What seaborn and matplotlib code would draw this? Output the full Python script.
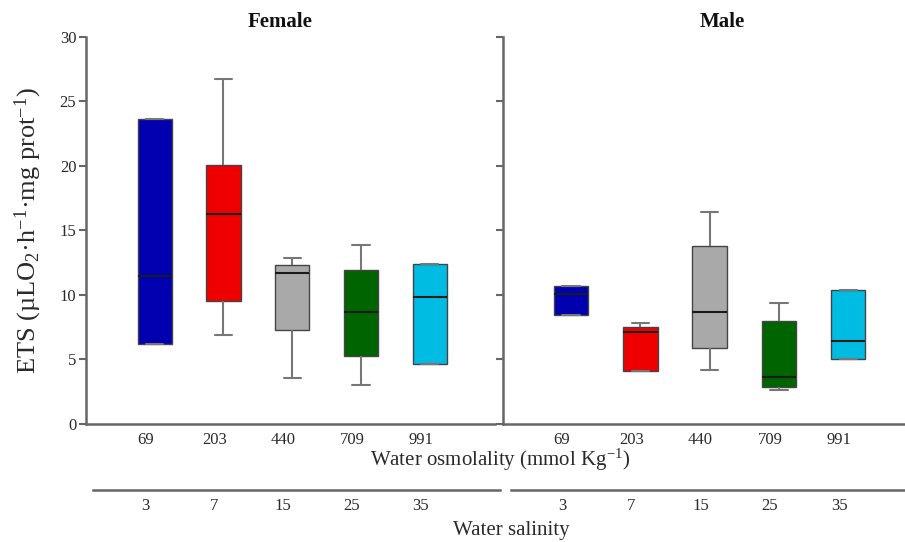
import numpy as np
import pandas as pd
import seaborn as sns
import matplotlib.pyplot as plt

osmolality = ["69", "203", "440", "709", "991"]
salinity = ["3", "7", "15", "25", "35"]
colors = ["#0000b0", "#ee0000", "#a9a9a9", "#006400", "#00bbe2"]

# five numbers per group: lower whisker, Q1, median, Q3, upper whisker
female_69 = [6.2, 6.2, 11.45, 23.6, 23.6]
female_203 = [6.9, 9.5, 16.25, 20.1, 26.7]
female_440 = [3.6, 7.3, 11.7, 12.3, 12.85]
female_709 = [3.0, 5.3, 8.7, 11.95, 13.9]
female_991 = [4.65, 4.65, 9.8, 12.4, 12.4]

male_69 = [8.45, 8.45, 10.05, 10.7, 10.7]
male_203 = [4.1, 4.1, 7.15, 7.55, 7.85]
male_440 = [4.15, 5.9, 8.65, 13.75, 16.4]
male_709 = [2.6, 2.85, 3.65, 7.95, 9.4]
male_991 = [5.0, 5.0, 6.45, 10.4, 10.4]

female = [female_69, female_203, female_440, female_709, female_991]
male = [male_69, male_203, male_440, male_709, male_991]

rows = []
for sex, groups in [("Female", female), ("Male", male)]:
    for osm, vals in zip(osmolality, groups):
        for v in vals:
            rows.append({"sex": sex, "osm": osm, "ets": v})
df = pd.DataFrame(rows)

sns.set_style("ticks")
plt.rcParams["font.family"] = ["Liberation Serif", "DejaVu Serif"]
plt.rcParams["mathtext.fontset"] = "custom"
plt.rcParams["mathtext.rm"] = "Liberation Serif"

fig = plt.figure(figsize=(9.05, 5.42), dpi=100)
ax1 = fig.add_axes([0.095, 0.2177, 0.452, 0.7146])
ax2 = fig.add_axes([0.5558, 0.2177, 0.4442, 0.7146])

axis_col = "#666666"
text_col = "#2a2a2a"
# labels sit a little left of the boxes in the original
label_pos = np.arange(5) - 0.13

panels = [(ax1, "Female", (-1.0, 4.95), 0.474, (-0.9, 5.02)),
          (ax2, "Male", (-0.98, 4.82), 0.545, (-0.87, 5.0))]

for ax, sex, xl, tx, sal_bounds in panels:
    sns.boxplot(data=df[df["sex"] == sex], x="osm", y="ets", hue="osm",
                order=osmolality, hue_order=osmolality, palette=colors,
                legend=False, whis=(0, 100), width=0.5, linewidth=1,
                linecolor="#444444", saturation=1, ax=ax,
                medianprops={"color": "#1a1a1a", "linewidth": 1.5},
                whiskerprops={"color": "#777777", "linewidth": 1.5},
                capprops={"color": "#777777", "linewidth": 1.5})
    ax.set_xlim(*xl)
    ax.set_ylim(0, 30)
    ax.set_yticks([0, 5, 10, 15, 20, 25, 30])
    ax.set_xticks(label_pos)
    ax.set_xticklabels(osmolality)
    ax.set_xlabel("")
    ax.set_ylabel("")
    ax.tick_params(axis="x", length=0, pad=6, labelsize=12, labelcolor=text_col)
    ax.tick_params(axis="y", length=5, width=1.5, color=axis_col,
                   labelsize=12, labelcolor=text_col, pad=2)
    for s in ["top", "right"]:
        ax.spines[s].set_visible(False)
    for s in ["left", "bottom"]:
        ax.spines[s].set_color(axis_col)
        ax.spines[s].set_linewidth(1.8)
    ax.spines["left"].set_bounds(0, 30)
    ax.text(tx, 1.038, sex, transform=ax.transAxes, ha="center", va="center",
            fontsize=15, fontweight="bold", color="#111111")

    sec = ax.secondary_xaxis(-0.17)
    sec.set_xticks(label_pos)
    sec.set_xticklabels(salinity)
    sec.tick_params(axis="x", length=0, pad=6, labelsize=12, labelcolor=text_col)
    sec.spines["bottom"].set_color(axis_col)
    sec.spines["bottom"].set_linewidth(1.8)
    sec.spines["bottom"].set_bounds(*sal_bounds)

ax2.set_yticklabels([])

fig.text(28 / 905, 1 - 231 / 542,
         r"ETS (µLO$\mathregular{_2}$·h$\mathregular{^{-1}}$·mg prot$\mathregular{^{-1}}$)",
         rotation=90, ha="center", va="center", fontsize=19, color=text_col)
fig.text(500 / 905, 1 - 460 / 542, r"Water osmolality (mmol Kg$\mathregular{^{-1}}$)",
         ha="center", va="center", fontsize=15, color=text_col)
fig.text(511 / 905, 1 - 530 / 542, "Water salinity",
         ha="center", va="center", fontsize=15, color=text_col)

fig.savefig("out.png", dpi=100)
